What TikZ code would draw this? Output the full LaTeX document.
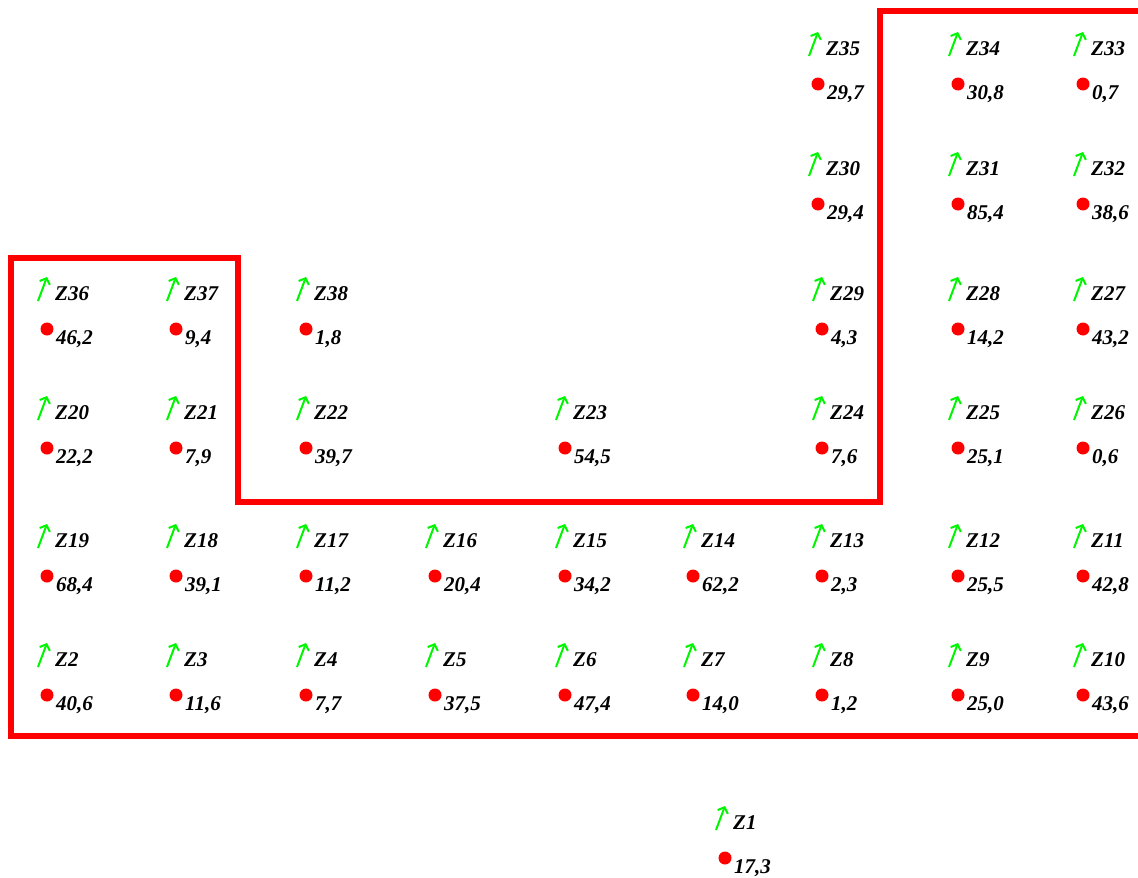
\documentclass[tikz,border=0pt]{standalone}
\usepackage{fontspec}
\setmainfont{Liberation Serif}
\usetikzlibrary{arrows.meta}
\definecolor{zred}{RGB}{255,0,0}
\definecolor{zgreen}{RGB}{0,245,0}
\tikzset{
  ztext/.style={anchor=base west, inner sep=0pt, font=\fontsize{21}{21}\selectfont\bfseries\itshape},
  zdot/.style={circle, fill=zred, inner sep=0pt, minimum size=13pt},
  zarrow/.style={draw=zgreen, line width=2pt, -{Straight Barb[length=5pt,width=11pt,line width=2pt]}},
  zborder/.style={draw=zred, line width=6pt, line join=miter},
}
\newcommand{\zcell}[5]{%
  \node[zdot] (d#1) at (#2,-#3) {};
  \draw[zarrow] (#2-9,-#3+28) -- (#2,-#3+52);
  \node[ztext] (l#1) at (#2+8,-#3+29) {#4};
  \node[ztext] (v#1) at (#2+9,-#3-15) {#5};
}
\begin{document}
\begin{tikzpicture}[x=1pt,y=1pt]
\useasboundingbox (0,0) rectangle (1138,-878);
\draw[zborder] (1138,-11) -- (880,-11) -- (880,-502) -- (238,-502) -- (238,-258) -- (11,-258) -- (11,-736) -- (1138,-736);
% row 1
\zcell{35}{818}{84}{Z35}{29,7}
\zcell{34}{958}{84}{Z34}{30,8}
\zcell{33}{1083}{84}{Z33}{0,7}
% row 2
\zcell{30}{818}{204}{Z30}{29,4}
\zcell{31}{958}{204}{Z31}{85,4}
\zcell{32}{1083}{204}{Z32}{38,6}
% row 3
\zcell{36}{47}{329}{Z36}{46,2}
\zcell{37}{176}{329}{Z37}{9,4}
\zcell{38}{306}{329}{Z38}{1,8}
\zcell{29}{822}{329}{Z29}{4,3}
\zcell{28}{958}{329}{Z28}{14,2}
\zcell{27}{1083}{329}{Z27}{43,2}
% row 4
\zcell{20}{47}{448}{Z20}{22,2}
\zcell{21}{176}{448}{Z21}{7,9}
\zcell{22}{306}{448}{Z22}{39,7}
\zcell{23}{565}{448}{Z23}{54,5}
\zcell{24}{822}{448}{Z24}{7,6}
\zcell{25}{958}{448}{Z25}{25,1}
\zcell{26}{1083}{448}{Z26}{0,6}
% row 5
\zcell{19}{47}{576}{Z19}{68,4}
\zcell{18}{176}{576}{Z18}{39,1}
\zcell{17}{306}{576}{Z17}{11,2}
\zcell{16}{435}{576}{Z16}{20,4}
\zcell{15}{565}{576}{Z15}{34,2}
\zcell{14}{693}{576}{Z14}{62,2}
\zcell{13}{822}{576}{Z13}{2,3}
\zcell{12}{958}{576}{Z12}{25,5}
\zcell{11}{1083}{576}{Z11}{42,8}
% row 6
\zcell{2}{47}{695}{Z2}{40,6}
\zcell{3}{176}{695}{Z3}{11,6}
\zcell{4}{306}{695}{Z4}{7,7}
\zcell{5}{435}{695}{Z5}{37,5}
\zcell{6}{565}{695}{Z6}{47,4}
\zcell{7}{693}{695}{Z7}{14,0}
\zcell{8}{822}{695}{Z8}{1,2}
\zcell{9}{958}{695}{Z9}{25,0}
\zcell{10}{1083}{695}{Z10}{43,6}
% Z1
\zcell{1}{725}{858}{Z1}{17,3}
\end{tikzpicture}
\end{document}
